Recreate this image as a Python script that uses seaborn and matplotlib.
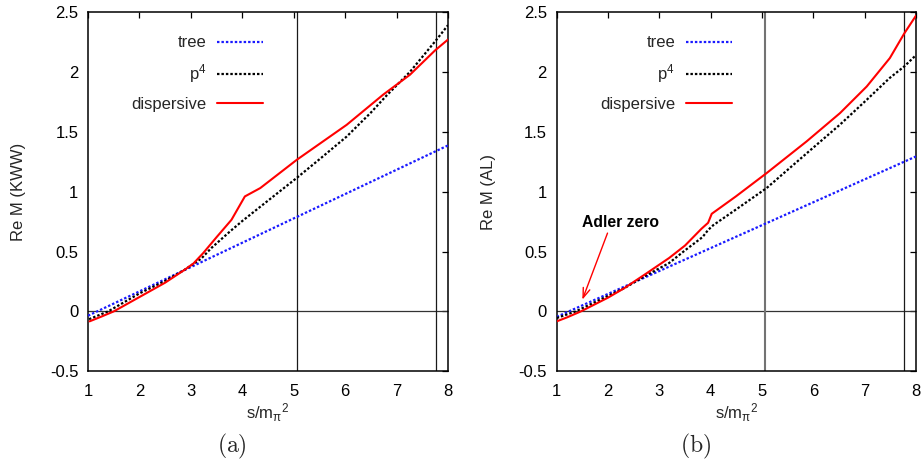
import matplotlib
matplotlib.use("Agg")
import matplotlib.pyplot as plt
import seaborn as sns

# ---- panel (a): KWW amplitude ----
s_tree_kww = [1.0, 8.0]
tree_kww = [-0.036, 1.386]

s_p4_kww = [1.02, 1.39, 2.0, 2.5, 2.88, 3.2, 3.4, 3.78, 4.0, 4.5, 5.06, 5.5,
            6.03, 6.5, 6.8, 7.26, 7.76, 8.0]
p4_kww = [-0.065, 0.0, 0.15, 0.255, 0.348, 0.44, 0.53, 0.675, 0.755, 0.925,
          1.115, 1.27, 1.46, 1.66, 1.80, 2.0, 2.26, 2.39]

s_disp_kww = [1.03, 1.25, 1.5, 2.0, 2.5, 2.88, 3.05, 3.24, 3.5, 3.79,
              4.05, 4.35, 5.06, 6.03, 6.74, 7.26, 7.75, 8.0]
disp_kww = [-0.083, -0.045, 0.0, 0.12, 0.24, 0.348, 0.40, 0.487, 0.62,
            0.765, 0.96, 1.03, 1.266, 1.558, 1.81, 1.976, 2.18, 2.27]

# ---- panel (b): AL amplitude ----
s_tree_al = [1.0, 8.0]
tree_al = [-0.045, 1.294]

s_p4_al = [1.0, 1.37, 2.0, 2.32, 2.74, 3.19, 3.5, 3.84, 3.95, 4.05, 4.49,
           5.09, 5.87, 6.52, 7.04, 7.49, 7.77, 8.0]
p4_al = [-0.055, 0.0, 0.13, 0.195, 0.30, 0.404, 0.51, 0.62, 0.68, 0.72, 0.85,
         1.03, 1.32, 1.56, 1.767, 1.95, 2.045, 2.14]

s_disp_al = [1.0, 1.2, 1.47, 2.0, 2.32, 2.74, 3.19, 3.5, 3.82, 3.95, 4.02,
             4.49, 5.09, 5.87, 6.52, 7.04, 7.49, 7.77, 8.0]
disp_al = [-0.083, -0.05, 0.0, 0.115, 0.195, 0.315, 0.446, 0.55, 0.69, 0.74,
           0.815, 0.96, 1.155, 1.42, 1.656, 1.878, 2.115, 2.32, 2.47]

# thresholds marked by vertical lines
thresholds = [5.06, 7.77]

# Adler zero marker (panel b)
adler_tip = (1.50, 0.098)
adler_tail = (1.99, 0.654)
adler_text_pos = (2.25, 0.745)

x_ticks = [1, 2, 3, 4, 5, 6, 7, 8]
y_ticks = [-0.5, 0, 0.5, 1, 1.5, 2, 2.5]
y_tick_labels = ["-0.5", "0", "0.5", "1", "1.5", "2", "2.5"]
series_labels = ["tree", r"p$\mathregular{^4}$", "dispersive"]

sns.set_style("white")
plt.rcParams["font.family"] = ["Liberation Sans", "DejaVu Sans"]
plt.rcParams["mathtext.fontset"] = "custom"
plt.rcParams["mathtext.rm"] = "Liberation Sans"
plt.rcParams["mathtext.it"] = "Liberation Sans:italic"
plt.rcParams["mathtext.sf"] = "Liberation Sans"
plt.rcParams["axes.unicode_minus"] = False

fig = plt.figure(figsize=(9.21, 4.61), dpi=100)
ax_a = fig.add_axes([88 / 921, 89.7 / 461, 360 / 921, 359.3 / 461])
ax_b = fig.add_axes([556.7 / 921, 89.7 / 461, 359.3 / 921, 359.3 / 461])

dot = (0, (1.1, 0.9))


def draw_panel(ax, s_tree, tree, s_p4, p4, s_disp, disp, ylabel, vline_colors):
    ax.axhline(0, color="0.2", lw=0.9, zorder=1)
    for xv, c in zip(thresholds, vline_colors):
        ax.axvline(xv, color=c[0], lw=c[1], zorder=1)
    sns.lineplot(x=s_tree, y=tree, ax=ax, color="#1a1aff", lw=1.6,
                 linestyle=dot, estimator=None, sort=False, zorder=3)
    sns.lineplot(x=s_p4, y=p4, ax=ax, color="black", lw=1.6,
                 linestyle=dot, estimator=None, sort=False, zorder=3)
    sns.lineplot(x=s_disp, y=disp, ax=ax, color="#ff0000", lw=1.5,
                 estimator=None, sort=False, zorder=4)
    ax.set_xlim(1, 8)
    ax.set_ylim(-0.5, 2.5)
    ax.set_xticks(x_ticks)
    ax.set_xticklabels([str(t) for t in x_ticks])
    ax.set_yticks(y_ticks)
    ax.set_yticklabels(y_tick_labels)
    ax.tick_params(direction="in", length=4, width=0.9, top=True, right=True,
                   labelsize=12, colors="black", pad=7)
    ax.tick_params(axis="x", pad=9)
    for sp in ax.spines.values():
        sp.set_visible(True)
        sp.set_color("black")
        sp.set_linewidth(1.1)
    ax.set_xlabel(r"s/m$\mathregular{_{\pi}}$$\mathregular{^2}$", fontsize=12,
                  va="top")
    ax.xaxis.set_label_coords(0.5, -0.083)
    ax.set_ylabel(ylabel, fontsize=12, va="center")
    handles = ax.get_lines()[-3:]
    ax.legend(handles, series_labels, loc="upper right",
              bbox_to_anchor=(0.487, 0.935), markerfirst=False, frameon=False,
              handlelength=2.76, handletextpad=0.64, labelspacing=0.72,
              borderpad=0, borderaxespad=0, fontsize=12)


draw_panel(ax_a, s_tree_kww, tree_kww, s_p4_kww, p4_kww, s_disp_kww, disp_kww,
           "Re M (KWW)", [("0.1", 0.9), ("0.1", 0.9)])
ax_a.yaxis.set_label_coords(-0.194, 0.5)

draw_panel(ax_b, s_tree_al, tree_al, s_p4_al, p4_al, s_disp_al, disp_al,
           "Re M (AL)", [("0.45", 1.5), ("0.1", 0.9)])
ax_b.yaxis.set_label_coords(-0.191, 0.5)

ax_b.annotate("", xy=adler_tip, xytext=adler_tail,
              arrowprops=dict(arrowstyle="->,head_length=0.7,head_width=0.25",
                              color="#ff0000", lw=1.0, shrinkA=0, shrinkB=0))
ax_b.text(adler_text_pos[0], adler_text_pos[1], "Adler zero", fontsize=11.3,
          fontweight="bold", ha="center", va="center", color="black")

fig.text(231.7 / 921, 1 - 446.7 / 461, r"$\mathrm{(a)}$", fontsize=17,
         math_fontfamily="cm", ha="center", va="center")
fig.text(696 / 921, 1 - 446.7 / 461, r"$\mathrm{(b)}$", fontsize=17,
         math_fontfamily="cm", ha="center", va="center")

fig.savefig("out.png", dpi=100)
